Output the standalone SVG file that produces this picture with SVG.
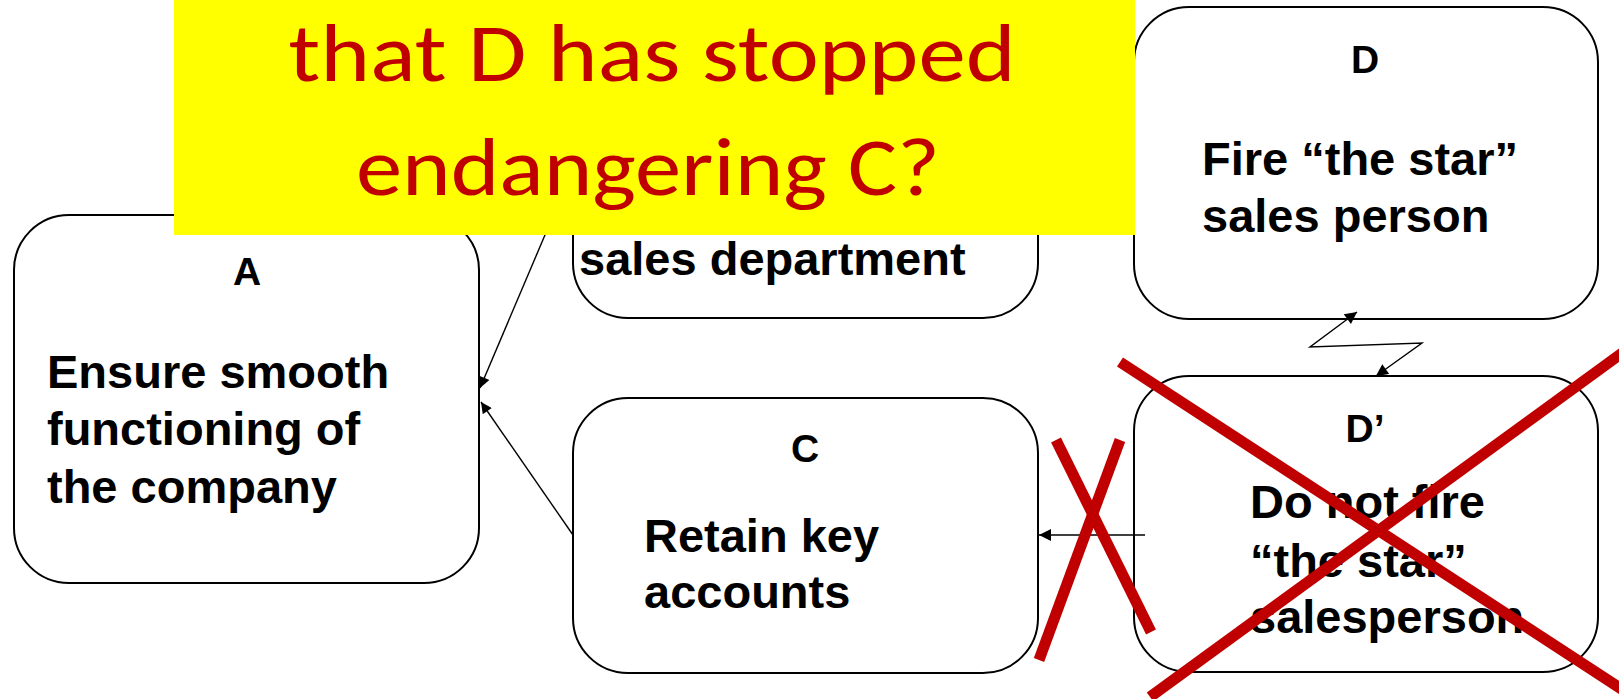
<svg xmlns="http://www.w3.org/2000/svg" width="1619" height="699" viewBox="0 0 1619 699">
<style>
.box{fill:#fff;stroke:#000;stroke-width:2}
.lbl{font-family:"Liberation Sans",Arial,sans-serif;font-weight:bold;font-size:39px;fill:#000;text-anchor:middle}
.txt{font-family:"Liberation Sans",Arial,sans-serif;font-weight:bold;font-size:47px;fill:#000}
.conn{fill:none;stroke:#000;stroke-width:1.4}
.cross{stroke:#C00000;stroke-width:11;fill:none}
.q{font-family:Carlito,Calibri,Lato,"Liberation Sans",sans-serif;font-size:82px;fill:#C00000;text-anchor:middle}
</style>
<defs>
<marker id="ah" viewBox="0 0 10 10" refX="10" refY="5" markerWidth="13" markerHeight="11" markerUnits="userSpaceOnUse" orient="auto-start-reverse">
<path d="M0,0 L10,5 L0,10 z" fill="#000"/>
</marker>
<marker id="ah2" viewBox="0 0 10 10" refX="10" refY="5" markerWidth="15" markerHeight="12" markerUnits="userSpaceOnUse" orient="auto-start-reverse">
<path d="M0,0 L10,5 L0,10 z" fill="#000"/>
</marker>
</defs>
<rect width="1619" height="699" fill="#fff"/>
<g id="nodeB">
<rect class="box" x="573" y="7" width="465" height="311" rx="55" ry="55"/>
<text class="txt" x="579" y="275">sales department</text>
</g>
<g id="nodeA">
<rect class="box" x="14" y="215" width="465" height="368" rx="55" ry="55"/>
<text class="lbl" x="247" y="285">A</text>
<text class="txt" x="47" y="388">Ensure smooth</text>
<text class="txt" x="47" y="445">functioning of</text>
<text class="txt" x="47" y="503">the company</text>
</g>
<g id="nodeC">
<rect class="box" x="573" y="398" width="465" height="275" rx="55" ry="55"/>
<text class="lbl" x="805" y="462">C</text>
<text class="txt" x="644" y="552">Retain key</text>
<text class="txt" x="644" y="608">accounts</text>
</g>
<g id="nodeD">
<rect class="box" x="1134" y="7" width="464" height="312" rx="55" ry="55"/>
<text class="lbl" x="1365" y="73">D</text>
<text class="txt" x="1202" y="175">Fire “the star”</text>
<text class="txt" x="1202" y="232">sales person</text>
</g>
<g id="nodeDp">
<rect class="box" x="1134" y="376" width="464" height="296" rx="55" ry="55"/>
<text class="lbl" x="1365" y="442">D’</text>
<text class="txt" x="1250" y="518">Do not fire</text>
<text class="txt" x="1250" y="577">“the star”</text>
<text class="txt" x="1250" y="633">salesperson</text>
</g>
<g id="connectors">
<line class="conn" x1="573" y1="169" x2="480" y2="388" marker-end="url(#ah)"/>
<line class="conn" x1="573" y1="535" x2="481" y2="402" marker-end="url(#ah)"/>
<line class="conn" x1="1145" y1="535" x2="1039" y2="535" marker-end="url(#ah2)"/>
<polyline class="conn" points="1357,312 1310,347 1422,343 1376,376" marker-start="url(#ah2)" marker-end="url(#ah2)"/>
</g>
<g id="callout">
<rect x="174" y="0" width="961" height="235" fill="#FFFF00"/>
<text class="q" x="652" y="81" textLength="727" lengthAdjust="spacingAndGlyphs">that D has stopped</text>
<text class="q" x="648" y="195" textLength="584" lengthAdjust="spacingAndGlyphs">endangering C?</text>
</g>
<g id="crosses">
<line class="cross" x1="1056" y1="440" x2="1151" y2="632"/>
<line class="cross" x1="1120" y1="440" x2="1039" y2="660"/>
<line class="cross" x1="1120" y1="362" x2="1640" y2="701"/>
<line class="cross" x1="1150" y1="697" x2="1640" y2="340"/>
</g>
</svg>
